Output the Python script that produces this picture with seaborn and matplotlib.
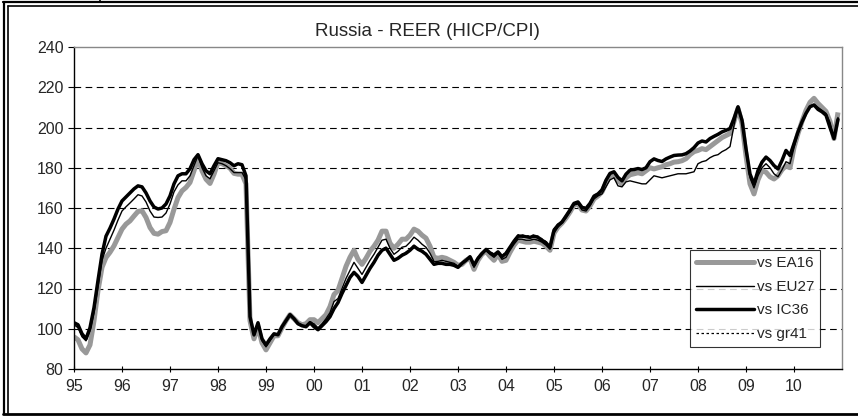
import matplotlib
matplotlib.use("Agg")
import matplotlib.pyplot as plt
from matplotlib.lines import Line2D
import numpy as np
import pandas as pd
import seaborn as sns

# Monthly data, Jan 1995 - Dec 2010
start_year = 1995
title = "Russia - REER (HICP/CPI)"
year_labels = ["95", "96", "97", "98", "99", "00", "01", "02", "03", "04",
               "05", "06", "07", "08", "09", "10"]
y_ticks = [80, 100, 120, 140, 160, 180, 200, 220, 240]

ea16 = [96, 94.5, 90, 88, 92, 104, 119, 130.5, 135.4, 138, 141.2, 145.4,
        149.5, 152, 153.6, 156, 158.3, 158.6, 155.3, 150.3, 147.4, 147, 148.3, 148.7,
        152.8, 159.4, 165.2, 168.5, 170.2, 172.7, 178.5, 185, 178.5, 174.3, 172.2, 176.8,
        182.6, 182, 181, 179.8, 177.2, 176.8, 176.8, 172, 104, 95, 101, 93,
        89.5, 93, 96.5, 96.5, 100.5, 104, 107, 105, 103, 102, 102.5, 104.5,
        104.5, 103, 105, 107, 111, 117, 119, 125, 131, 135.5, 139, 134.5,
        132, 135, 138.5, 141, 144, 148.5, 148.5, 142.5, 140, 142, 144.5, 144.5,
        146.5, 149.5, 148.5, 146.5, 145, 141, 135.5, 135, 135.5, 135, 134, 133,
        131.5, 132, 134, 135, 129.5, 134, 137, 138.5, 136, 134, 137, 133.5,
        134, 138, 141.5, 144, 143.5, 143, 143, 143.5, 143, 142.5, 141, 139,
        147.5, 150.5, 152.5, 155, 158, 161.5, 162, 159, 158.5, 161, 164.5, 166,
        168, 172.5, 176, 176.5, 173.5, 172, 175, 176.5, 177, 177.5, 177, 178.5,
        180, 179.4, 180, 180.5, 181.5, 182, 182.8, 183, 183.5, 184.5, 186.5, 188,
        188.6, 189.5, 189, 190.5, 192, 193.5, 195, 196, 197, 203, 209.5, 202,
        186, 172, 167, 174, 178.5, 177.8, 175.5, 174.4, 176, 179, 181, 180,
        190, 197, 203, 208.5, 212.5, 214.5, 212, 210, 208, 203, 194.5, 207.5]

eu27 = [102, 100.5, 96, 94, 99, 108, 121, 134, 140, 144.5, 149, 154,
        158.5, 160.6, 162.5, 164.5, 166.6, 166, 163, 158.5, 155.5, 155.3, 155.5, 157.5,
        162, 168, 171.5, 173.5, 173.5, 176, 181, 186, 180, 176, 174.5, 178.5,
        182.5, 182, 181, 179.5, 177.6, 177.6, 177.6, 174, 105, 96.5, 102, 94,
        91, 94, 97, 97, 101, 104, 107, 105, 102.5, 101.5, 101.5, 103.5,
        102.5, 100.5, 102.5, 105, 108, 113.5, 115, 120, 125, 129, 133, 130,
        127, 130.5, 134, 137, 140.5, 144, 144.5, 140, 137, 138.5, 140.5, 141,
        143, 145.5, 144, 142, 140.5, 137.5, 133.5, 133.5, 134, 133.5, 133, 132.5,
        131, 132, 134, 135.5, 130.5, 134.5, 137, 139, 137, 135.5, 137.5, 134.5,
        135.5, 139, 142, 144.5, 144.5, 144, 144, 144.5, 144, 143, 141.5, 139.5,
        147.5, 150.5, 152.5, 155, 158, 161.5, 162, 159, 158.5, 161, 164.5, 166,
        167, 170.5, 174, 175, 171, 170.5, 173, 173.5, 173, 172.5, 172, 172,
        174, 176, 175.5, 175, 175.5, 176, 176.5, 177, 177, 177, 177.5, 178,
        182, 183, 183.5, 185, 186, 186.5, 188, 189, 190.5, 201, 210, 203,
        188, 175, 170, 176, 180, 182, 180, 177, 175.5, 179, 183, 182,
        190, 197, 202.5, 207, 210.5, 211.5, 210, 208.5, 207, 202.5, 194.5, 205]

ic36 = [103, 102, 97.5, 95, 100.5, 110.5, 124, 137, 146, 150, 154.5, 159.5,
        163.5, 165.5, 167.5, 169.5, 171, 170.5, 167.5, 163.5, 160.5, 159.5, 160, 162,
        166, 172, 176, 177, 177, 179.5, 184, 186.5, 182, 178.5, 177, 181,
        184.5, 184, 183.5, 182.5, 181, 182, 181.5, 176, 106, 97, 103, 95,
        92, 95, 97.5, 97, 101, 104, 107, 105, 102.5, 101.5, 101, 103,
        101, 99.5, 101.5, 103.5, 106, 110, 113, 117.5, 121.5, 125.5, 128, 126,
        123, 126.5, 130, 133, 136.5, 139, 140, 137, 134, 135, 136.5, 137.5,
        139, 141, 139.5, 138.5, 137, 134.5, 132, 132.5, 132.5, 132, 132, 131.5,
        130.5, 132.5, 134, 135.8, 131.6, 135, 137.4, 139.4, 137.7, 136.6, 138.2, 135.8,
        137.5, 140.5, 143.5, 146, 146, 145.7, 145.4, 146, 145.4, 144, 142.7, 140.5,
        149, 151.5, 153, 156, 159, 162.3, 163, 160.3, 159.8, 162.3, 165.9, 167,
        169, 173.8, 177.2, 178, 175.2, 173.5, 176.8, 178.8, 179.1, 179.6, 179.1, 180,
        183, 184.4, 183.6, 183.1, 184.4, 185.3, 186.1, 186.3, 186.4, 187, 188.3, 190,
        192.3, 193.3, 192.8, 194.5, 195.6, 196.6, 197.8, 198.6, 199.5, 204.5, 210.3, 203.6,
        189.4, 176.9, 171.9, 178.6, 182.8, 185.3, 183.6, 181.1, 179.4, 183.6, 188.6, 186.1,
        192, 197.8, 202.8, 207, 210.3, 211.2, 209, 207.8, 206.1, 200, 194.5, 204]

gr41 = [103, 102, 97.5, 95, 100.5, 110.5, 124, 137, 146, 150, 154.5, 159.5,
        163.5, 165.5, 167.5, 169.5, 171, 170.5, 167.5, 163.5, 160.5, 159.5, 160, 162,
        166, 172, 176, 177, 177, 179.5, 184, 186.5, 182, 178.5, 177, 181,
        184.5, 184, 183.5, 182.5, 181, 182, 181.5, 176, 106, 97, 103, 95,
        92, 95, 97.5, 97, 101, 104, 107, 105, 102.5, 101.5, 101, 103,
        101, 99.5, 101.5, 103.5, 106.5, 110.5, 113.5, 118, 122, 126, 128.5, 126.5,
        123.5, 127, 130.5, 133.5, 137, 139.5, 140.5, 137.5, 134.5, 135.5, 137, 138,
        139.5, 141.5, 140, 139, 137.5, 135, 132.5, 133, 133, 132.5, 132.5, 132,
        131, 133, 134.5, 136.2, 132, 135.5, 137.8, 139.8, 138.2, 137, 138.6, 136.3,
        138, 141, 144, 146.7, 146.6, 146.3, 146, 146.7, 146, 144.6, 143.3, 141,
        149.6, 152, 153.5, 156.5, 159.4, 162.6, 163.4, 160.7, 160.2, 162.6, 166.2, 167.3,
        169.2, 174, 177.4, 178.2, 175.4, 173.7, 177, 179, 179.3, 179.8, 179.3, 180.2,
        183.2, 184.6, 183.8, 183.3, 184.6, 185.5, 186.3, 186.5, 186.6, 187.2, 188.5, 190.2,
        192.5, 193.5, 193, 194.7, 195.8, 196.8, 198, 198.8, 199.7, 204.7, 210.5, 203.8,
        189.6, 177.1, 172.1, 178.8, 183, 185.5, 183.8, 181.3, 179.6, 183.8, 188.8, 186.3,
        192.2, 198, 203, 207.2, 210.5, 211.4, 209.2, 208, 206.3, 200.2, 194.7, 204.2]

n = len(ic36)
t = start_year + np.arange(n) / 12.0
df = pd.DataFrame({"t": t, "EA16": ea16, "EU27": eu27, "IC36": ic36, "gr41": gr41})

sns.set_theme(style="white")
plt.rcParams["font.family"] = ["Liberation Sans", "DejaVu Sans"]

W, H = 858, 417
fig = plt.figure(figsize=(W / 100, H / 100), dpi=100)
ax = fig.add_axes([74 / W, 1 - 369 / H, (842 - 74) / W, (369 - 47) / H])

sns.lineplot(data=df, x="t", y="EA16", ax=ax, color="#999999", lw=3.6,
             solid_capstyle="butt", label="vs EA16")
sns.lineplot(data=df, x="t", y="EU27", ax=ax, color="black", lw=1.0, label="vs EU27")
sns.lineplot(data=df, x="t", y="IC36", ax=ax, color="black", lw=2.5, label="vs IC36")
sns.lineplot(data=df, x="t", y="gr41", ax=ax, color="black", lw=0.9,
             linestyle=(0, (2, 2)), label="vs gr41")

ax.set_xlim(start_year, start_year + len(year_labels))
ax.set_ylim(y_ticks[0], y_ticks[-1])
ax.set_yticks(y_ticks)
ax.set_xticks(start_year + np.arange(len(year_labels)))
ax.set_xticklabels(year_labels)
ax.set_xlabel("")
ax.set_ylabel("")
ax.tick_params(axis="x", direction="inout", length=5, width=0.8, color="black",
               labelsize=11.5, pad=5)
ax.tick_params(axis="y", direction="out", length=4, width=0.8, color="black",
               labelsize=11.5, pad=3.5)
ax.tick_params(axis="both", which="both", bottom=True, left=True)
for v in y_ticks[1:-1]:
    ax.axhline(v, color="black", lw=0.8, ls=(0, (6, 4)), zorder=0.5)
for s in ["left", "bottom"]:
    ax.spines[s].set_color("black")
    ax.spines[s].set_linewidth(1.0)
for s in ["top", "right"]:
    ax.spines[s].set_color("#888888")
    ax.spines[s].set_linewidth(1.0)
fig.text(427 / W, 1 - 32 / H, title, fontsize=13.5, ha="center", va="center")

handles = [Line2D([], [], color="#999999", lw=3.6),
           Line2D([], [], color="black", lw=1.0),
           Line2D([], [], color="black", lw=2.5),
           Line2D([], [], color="black", lw=0.9, ls=(0, (2, 2)))]
leg = ax.legend(handles, ["vs EA16", "vs EU27", "vs IC36", "vs gr41"],
                loc="lower right",
                bbox_to_anchor=((820 - 74) / (842 - 74), (369 - 347) / (369 - 47)),
                fontsize=11, frameon=True, fancybox=False, handlelength=3.8,
                handletextpad=0.15, borderpad=0.4, labelspacing=0.62, borderaxespad=0)
leg.get_frame().set_edgecolor("black")
leg.get_frame().set_linewidth(0.8)

# outer double frame
def hline(y, x0, x1, lw):
    fig.add_artist(Line2D([x0 / W, x1 / W], [1 - y / H, 1 - y / H], color="black", lw=lw,
                          transform=fig.transFigure))

def vline(x, y0, y1, lw):
    fig.add_artist(Line2D([x / W, x / W], [1 - y0 / H, 1 - y1 / H], color="black", lw=lw,
                          transform=fig.transFigure))

hline(2, 3, W, 1.6)
hline(6, 8, W, 1.2)
hline(413.5, 3, W, 2.0)
vline(4, 2, 414, 1.6)
vline(8, 6, 413, 1.2)
vline(100, 0, 2, 1.2)

fig.savefig("out.png", dpi=100)
